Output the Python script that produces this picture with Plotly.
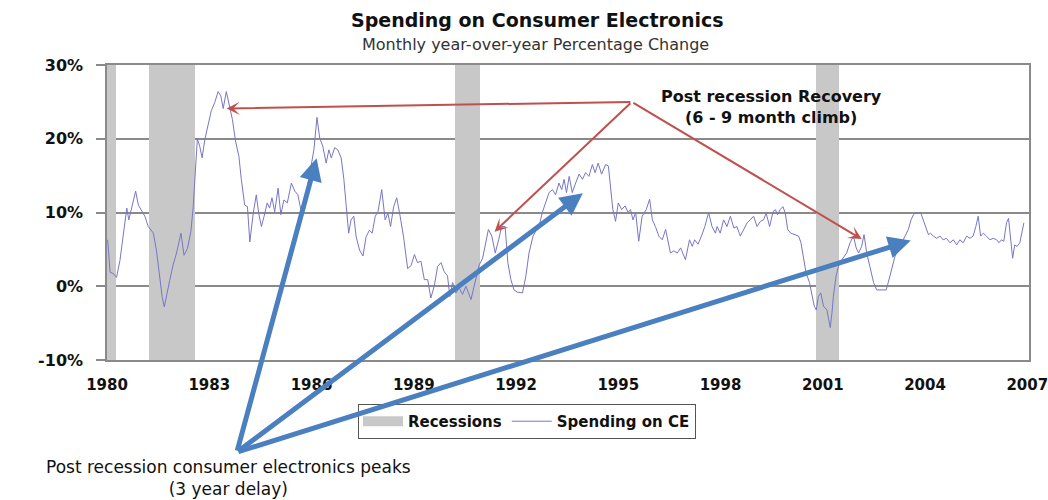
import plotly.graph_objects as go

# ---------------- data ----------------
years = [
    1980.02, 1980.09, 1980.19, 1980.28, 1980.38, 1980.48, 1980.58, 1980.64, 1980.72, 1980.84,
    1980.92, 1981.02, 1981.11, 1981.21, 1981.36, 1981.45, 1981.55, 1981.62, 1981.68, 1981.75,
    1981.84, 1981.94, 1982.04, 1982.17, 1982.26, 1982.36, 1982.46, 1982.53, 1982.60, 1982.65,
    1982.72, 1982.79, 1982.87, 1982.97, 1983.06, 1983.16, 1983.26, 1983.34, 1983.41, 1983.50,
    1983.58, 1983.68, 1983.77, 1983.87, 1983.94, 1984.04, 1984.12, 1984.19, 1984.29, 1984.38,
    1984.45, 1984.53, 1984.61, 1984.70, 1984.77, 1984.84, 1984.92, 1985.02, 1985.10, 1985.19,
    1985.29, 1985.41, 1985.51, 1985.60, 1985.70, 1985.80, 1985.90, 1985.99, 1986.07, 1986.16,
    1986.24, 1986.33, 1986.43, 1986.51, 1986.58, 1986.68, 1986.77, 1986.87, 1986.95, 1987.02,
    1987.09, 1987.16, 1987.24, 1987.31, 1987.41, 1987.51, 1987.60, 1987.70, 1987.78, 1987.87,
    1987.95, 1988.06, 1988.16, 1988.24, 1988.32, 1988.41, 1988.50, 1988.60, 1988.70, 1988.82,
    1988.92, 1989.02, 1989.11, 1989.21, 1989.31, 1989.41, 1989.50, 1989.60, 1989.70, 1989.80,
    1989.89, 1989.99, 1990.06, 1990.14, 1990.24, 1990.33, 1990.43, 1990.53, 1990.61, 1990.68,
    1990.77, 1990.84, 1990.92, 1991.02, 1991.10, 1991.19, 1991.29, 1991.39, 1991.49, 1991.58,
    1991.68, 1991.76, 1991.85, 1991.94, 1992.04, 1992.19, 1992.29, 1992.38, 1992.50, 1992.60,
    1992.70, 1992.77, 1992.87, 1992.97, 1993.07, 1993.16, 1993.26, 1993.34, 1993.41, 1993.48,
    1993.56, 1993.65, 1993.75, 1993.85, 1993.95, 1994.04, 1994.14, 1994.24, 1994.32, 1994.41,
    1994.51, 1994.63, 1994.71, 1994.78, 1994.84, 1994.92, 1995.00, 1995.10, 1995.20, 1995.29,
    1995.36, 1995.43, 1995.51, 1995.60, 1995.70, 1995.82, 1995.92, 1996.00, 1996.09, 1996.19,
    1996.29, 1996.39, 1996.46, 1996.53, 1996.63, 1996.73, 1996.83, 1996.97, 1997.09, 1997.17,
    1997.24, 1997.34, 1997.44, 1997.54, 1997.65, 1997.75, 1997.85, 1997.90, 1997.99, 1998.09,
    1998.19, 1998.29, 1998.39, 1998.48, 1998.58, 1998.68, 1998.78, 1998.87, 1998.97, 1999.07,
    1999.17, 1999.26, 1999.34, 1999.44, 1999.54, 1999.61, 1999.67, 1999.75, 1999.83, 1999.90,
    1999.97, 2000.06, 2000.19, 2000.29, 2000.36, 2000.44, 2000.51, 2000.61, 2000.68, 2000.75,
    2000.81, 2000.87, 2000.94, 2001.02, 2001.12, 2001.22, 2001.27, 2001.31, 2001.39, 2001.46,
    2001.56, 2001.63, 2001.70, 2001.80, 2001.90, 2001.98, 2002.05, 2002.14, 2002.21, 2002.29,
    2002.39, 2002.49, 2002.58, 2002.73, 2002.86, 2002.92, 2003.02, 2003.12, 2003.22, 2003.31,
    2003.41, 2003.51, 2003.59, 2003.66, 2003.73, 2003.80, 2003.87, 2003.95, 2004.03, 2004.10,
    2004.16, 2004.24, 2004.34, 2004.44, 2004.53, 2004.63, 2004.73, 2004.83, 2004.93, 2005.02,
    2005.12, 2005.22, 2005.32, 2005.41, 2005.49, 2005.56, 2005.63, 2005.71, 2005.80, 2005.90,
    2006.00, 2006.10, 2006.17, 2006.24, 2006.31, 2006.39, 2006.45, 2006.51, 2006.57, 2006.63,
    2006.70, 2006.78, 2006.86, 2006.90,
]
spending_change = [
    6.3, 1.9, 1.7, 1.2, 3.5, 6.7, 10.6, 9.0, 10.6, 12.9,
    11.0, 10.1, 9.5, 8.1, 7.2, 4.9, 1.3, -1.5, -2.8, -1.0,
    0.8, 2.9, 4.5, 7.2, 4.2, 5.1, 7.4, 10.8, 16.7, 20.0,
    19.0, 17.4, 19.9, 22.2, 23.8, 24.9, 26.4, 25.8, 24.1, 26.4,
    24.7, 22.6, 19.7, 17.6, 14.5, 11.0, 10.8, 6.0, 9.9, 12.4,
    9.9, 8.1, 9.5, 11.3, 10.6, 12.0, 10.1, 13.3, 9.7, 11.7,
    11.3, 14.0, 12.9, 12.4, 10.1, 10.8, 14.0, 16.3, 18.5, 22.9,
    20.1, 19.0, 16.7, 18.5, 17.4, 18.8, 18.5, 17.4, 14.5, 10.8,
    7.2, 9.0, 9.5, 6.7, 4.9, 4.1, 6.7, 7.6, 7.2, 9.5,
    10.1, 13.1, 9.0, 9.9, 8.1, 10.8, 12.0, 9.5, 6.7, 2.4,
    2.8, 4.3, 3.2, 3.4, 0.9, 0.9, -1.6, 0.0, 2.7, 3.2,
    2.0, 1.4, -1.4, 0.5, -0.9, -0.2, -1.1, 0.0, -1.1, -1.8,
    0.0, 1.4, 2.9, 3.8, 5.9, 7.7, 6.8, 4.5, 6.3, 8.1,
    8.1, 3.2, 0.9, -0.5, -0.8, -0.9, 1.4, 4.5, 6.8, 7.7,
    8.6, 10.0, 11.3, 12.7, 13.1, 12.4, 14.0, 13.1, 14.5, 12.7,
    14.9, 12.7, 14.0, 15.2, 14.5, 15.4, 14.9, 16.5, 15.4, 16.7,
    15.2, 16.5, 16.3, 13.1, 10.4, 8.8, 11.3, 10.4, 10.9, 10.0,
    10.4, 9.0, 10.0, 6.1, 9.5, 10.4, 11.8, 9.0, 8.1, 6.8,
    6.3, 7.7, 6.3, 4.5, 4.8, 4.5, 5.2, 3.6, 6.3, 5.4,
    6.3, 5.7, 6.8, 8.1, 10.0, 8.1, 7.2, 8.1, 7.2, 9.0,
    8.1, 9.5, 7.9, 8.1, 6.8, 7.7, 8.6, 9.0, 9.5, 8.1,
    8.8, 9.0, 9.9, 8.1, 10.1, 10.4, 9.7, 10.4, 10.8, 9.9,
    7.7, 7.2, 7.0, 6.8, 5.9, 3.6, 1.8, 0.5, -0.9, -2.7,
    -3.2, -1.4, -0.9, -2.7, -3.2, -5.6, -3.6, -1.4, 1.4, 2.7,
    3.6, 4.1, 4.5, 5.9, 6.8, 5.2, 4.5, 5.4, 7.0, 4.5,
    2.3, 0.5, -0.5, -0.5, -0.5, 0.5, 2.3, 4.1, 5.0, 5.9,
    6.8, 7.7, 9.0, 9.7, 10.0, 9.9, 10.0, 9.0, 8.1, 7.0,
    7.2, 6.8, 6.5, 6.8, 6.3, 6.5, 5.9, 6.3, 5.6, 6.3,
    5.9, 6.8, 6.5, 6.8, 8.1, 9.5, 6.8, 7.2, 6.8, 6.3,
    6.5, 6.3, 5.9, 6.3, 6.1, 8.6, 9.2, 6.3, 3.8, 5.6,
    5.4, 5.9, 8.1, 8.6,
]

recession_start = [1980.00, 1981.24, 1990.21, 2000.81]
recession_end = [1980.25, 1982.58, 1990.95, 2001.49]

tick_years = [1980, 1983, 1986, 1989, 1992, 1995, 1998, 2001, 2004, 2007]
tick_labels = [str(t) for t in tick_years]
pct_ticks = [-10, 0, 10, 20, 30]
pct_labels = [f"{v}%" for v in pct_ticks]

# arrow annotations (head positions in data units), and shared tails
recovery_heads_x = [1983.51, 1991.37, 2002.14]
recovery_heads_y = [24.1, 7.4, 6.4]
recovery_tail = (1995.40, 25.0)
peak_heads_x = [1986.15, 1993.96, 2003.58]
peak_heads_y = [17.35, 12.6, 6.2]
peak_tail = (1983.81, -22.5)

# ---------------- figure ----------------
AX = "#8a8a8a"
REC = "#c8c8c8"
fig = go.Figure()

fig.add_trace(go.Bar(
    x=[(s + e) / 2 for s, e in zip(recession_start, recession_end)],
    y=[40] * len(recession_start),
    base=-10,
    width=[e - s for s, e in zip(recession_start, recession_end)],
    marker=dict(color=REC, line=dict(width=0)),
    name="Recessions", legendgroup="rec", showlegend=False,
    hoverinfo="skip",
))
# legend-only entry giving the wide grey patch of the reference legend
fig.add_trace(go.Scatter(
    x=[None], y=[None], mode="lines", line=dict(color=REC, width=10),
    name="Recessions", legendgroup="rec", showlegend=True,
))
fig.add_trace(go.Scatter(
    x=years, y=spending_change, mode="lines",
    line=dict(color="#7676c8", width=1),
    name="Spending on CE",
))

annotations = [
    dict(text="<b>Spending on Consumer Electronics</b>", x=0.4665, y=1.1525,
         xref="paper", yref="paper", showarrow=False, xanchor="center", yanchor="middle",
         font=dict(family="DejaVu Sans", size=19, color="#111")),
    dict(text="Monthly year-over-year Percentage Change", x=0.4643, y=1.0678,
         xref="paper", yref="paper", showarrow=False, xanchor="center", yanchor="middle",
         font=dict(family="DejaVu Sans", size=16, color="#333")),
    dict(text="<b>Post recession Recovery</b><br><b>(6 - 9 month climb)</b>",
         x=(771 - 107) / 922, y=(360 - 107) / 295,
         xref="paper", yref="paper", showarrow=False, xanchor="center", yanchor="middle",
         borderpad=0, font=dict(family="DejaVu Sans", size=16, color="#111")),
    dict(text="Post recession consumer electronics peaks<br>(3 year delay)",
         x=(228 - 107) / 922, y=(360 - 478) / 295,
         xref="paper", yref="paper", showarrow=False, xanchor="center", yanchor="middle",
         borderpad=0, font=dict(family="DejaVu Sans", size=17, color="#111")),
]
for hx, hy in zip(recovery_heads_x, recovery_heads_y):
    annotations.append(dict(
        x=hx, y=hy, xref="x", yref="y", ax=recovery_tail[0], ay=recovery_tail[1],
        axref="x", ayref="y", text="", showarrow=True, arrowhead=3, arrowsize=1.1,
        arrowwidth=2, arrowcolor="#c0504d", standoff=0, startstandoff=0,
    ))
for hx, hy in zip(peak_heads_x, peak_heads_y):
    annotations.append(dict(
        x=hx, y=hy, xref="x", yref="y", ax=peak_tail[0], ay=peak_tail[1],
        axref="x", ayref="y", text="", showarrow=True, arrowhead=2, arrowsize=0.9,
        arrowwidth=5, arrowcolor="#4a7fc0", standoff=0, startstandoff=0,
    ))

fig.update_layout(
    width=1048, height=500,
    margin=dict(l=107, r=19, t=65, b=140, autoexpand=False),
    paper_bgcolor="white", plot_bgcolor="white",
    bargap=0,
    showlegend=True,
    legend=dict(orientation="h", x=(358 - 107) / 922, y=-0.149, xanchor="left", yanchor="top",
                bordercolor="#555", borderwidth=1, bgcolor="white",
                font=dict(family="DejaVu Sans", size=15, color="#111", weight="bold"),
                itemwidth=40, tracegroupgap=0, indentation=0),
    annotations=annotations,
    xaxis=dict(range=[1980, 2007.05], tickvals=tick_years, ticktext=tick_labels,
               showgrid=False, zeroline=False, showline=True, linecolor=AX, linewidth=1.5,
               mirror=True, ticks="", ticklabelstandoff=10, ticklabeloverflow="allow",
               tickfont=dict(family="DejaVu Sans", size=15, color="#111", weight="bold")),
    yaxis=dict(range=[-10, 30], tickvals=pct_ticks, ticktext=pct_labels,
               showgrid=True, gridcolor=AX, gridwidth=1.5, zeroline=False,
               showline=True, linecolor=AX, linewidth=1.5, mirror=True,
               ticks="outside", ticklen=9, tickcolor=AX, tickwidth=1.5, ticklabelstandoff=10,
               tickfont=dict(family="DejaVu Sans", size=16, color="#111", weight="bold")),
)

fig.write_html("out.html")
